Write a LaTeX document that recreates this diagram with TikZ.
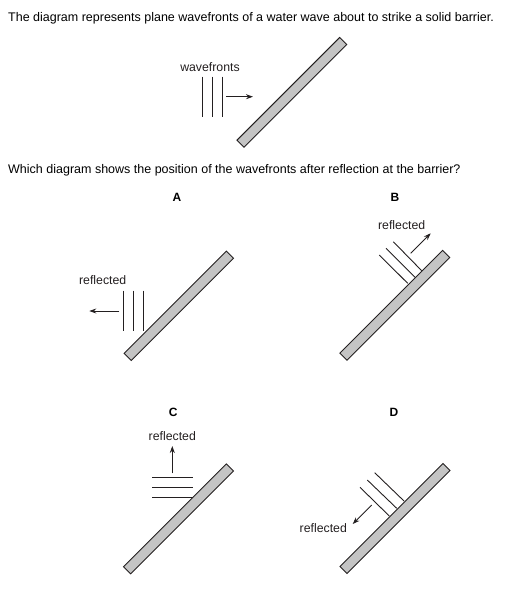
\documentclass[tikz,border=0pt]{standalone}
\usepackage{fontspec}
\setmainfont{Liberation Sans}
\usetikzlibrary{arrows.meta}
\definecolor{barfill}{HTML}{C4C4C4}
\definecolor{ink}{HTML}{231F20}
\tikzset{
  barrier/.style={draw=ink, line width=0.9pt, fill=barfill, rotate=45, minimum height=10pt, inner sep=0pt},
  wave/.style={draw=ink, line width=0.9pt},
  dirarrow/.style={draw=ink, line width=0.9pt, -{Stealth[length=7pt,width=5pt]}},
  lbl/.style={font=\fontsize{12.3pt}{14pt}\selectfont, text=ink, inner sep=0pt},
  opt/.style={font=\bfseries\fontsize{12pt}{14pt}\selectfont, inner sep=0pt},
  question/.style={font=\fontsize{12.5pt}{15pt}\selectfont, anchor=west, inner sep=0pt}
}
\begin{document}
\begin{tikzpicture}[x=1pt,y=-1pt]
\useasboundingbox (0,0) rectangle (513,595);
% texts
\node[question] (q1) at (8,18) {The diagram represents plane wavefronts of a water wave about to strike a solid barrier.};
\node[question] (q2) at (8,170) {Which diagram shows the position of the wavefronts after reflection at the barrier?};
% top figure
\node[barrier, minimum width=145.3pt] (bar0) at (291.8,92.4) {};
\node[lbl] (wf) at (210,66.7) {wavefronts};
\draw[wave] (202.3,76.7) -- (202.3,117.3);
\draw[wave] (212.3,76.7) -- (212.3,117.3);
\draw[wave] (222.3,76.7) -- (222.3,117.3);
\coordinate (a0s) at (226,96.7);
\coordinate (a0e) at (253,96.7);
\draw[dirarrow] (a0s) -- (a0e);
% A
\node[opt] (A) at (177,197) {A};
\node[barrier, minimum width=144.7pt] (barA) at (178.8,305.8) {};
\node[lbl] (lA) at (102.7,280) {reflected};
\draw[wave] (123.3,290.7) -- (123.3,330.7);
\draw[wave] (133.3,290.7) -- (133.3,330.7);
\draw[wave] (143.3,290.7) -- (143.3,330.7);
\coordinate (aAs) at (119.3,311);
\coordinate (aAe) at (89.3,311);
\draw[dirarrow] (aAs) -- (aAe);
% B
\node[opt] (B) at (395,197) {B};
\node[barrier, minimum width=145.4pt] (barB) at (394.8,305.3) {};
\node[lbl] (lB) at (401.7,225) {reflected};
\draw[wave] (379.3,255) -- (407.7,283.3);
\draw[wave] (386,248.3) -- (415,277.3);
\draw[wave] (393.3,241.7) -- (421.7,270.7);
\coordinate (aBs) at (410.7,253.3);
\coordinate (aBe) at (430.7,233.3);
\draw[dirarrow] (aBs) -- (aBe);
% C
\node[opt] (C) at (173.3,412) {C};
\node[barrier, minimum width=145.4pt] (barC) at (178.5,518.9) {};
\node[lbl] (lC) at (172.3,436) {reflected};
\draw[wave] (152.3,477.3) -- (192.7,477.3);
\draw[wave] (152.3,487.3) -- (192.7,487.3);
\draw[wave] (152.3,497.3) -- (192.7,497.3);
\coordinate (aCs) at (172.3,473.3);
\coordinate (aCe) at (172.3,446);
\draw[dirarrow] (aCs) -- (aCe);
% D
\node[opt] (D) at (394,412) {D};
\node[barrier, minimum width=145.7pt] (barD) at (395,518.5) {};
\node[lbl] (lD) at (323.3,528.3) {reflected};
\draw[wave] (360,487.3) -- (389.3,516);
\draw[wave] (367.3,480) -- (396.7,508.3);
\draw[wave] (374.7,472.7) -- (404,501);
\coordinate (aDs) at (371.7,505);
\coordinate (aDe) at (352.7,524);
\draw[dirarrow] (aDs) -- (aDe);
\end{tikzpicture}
\end{document}
